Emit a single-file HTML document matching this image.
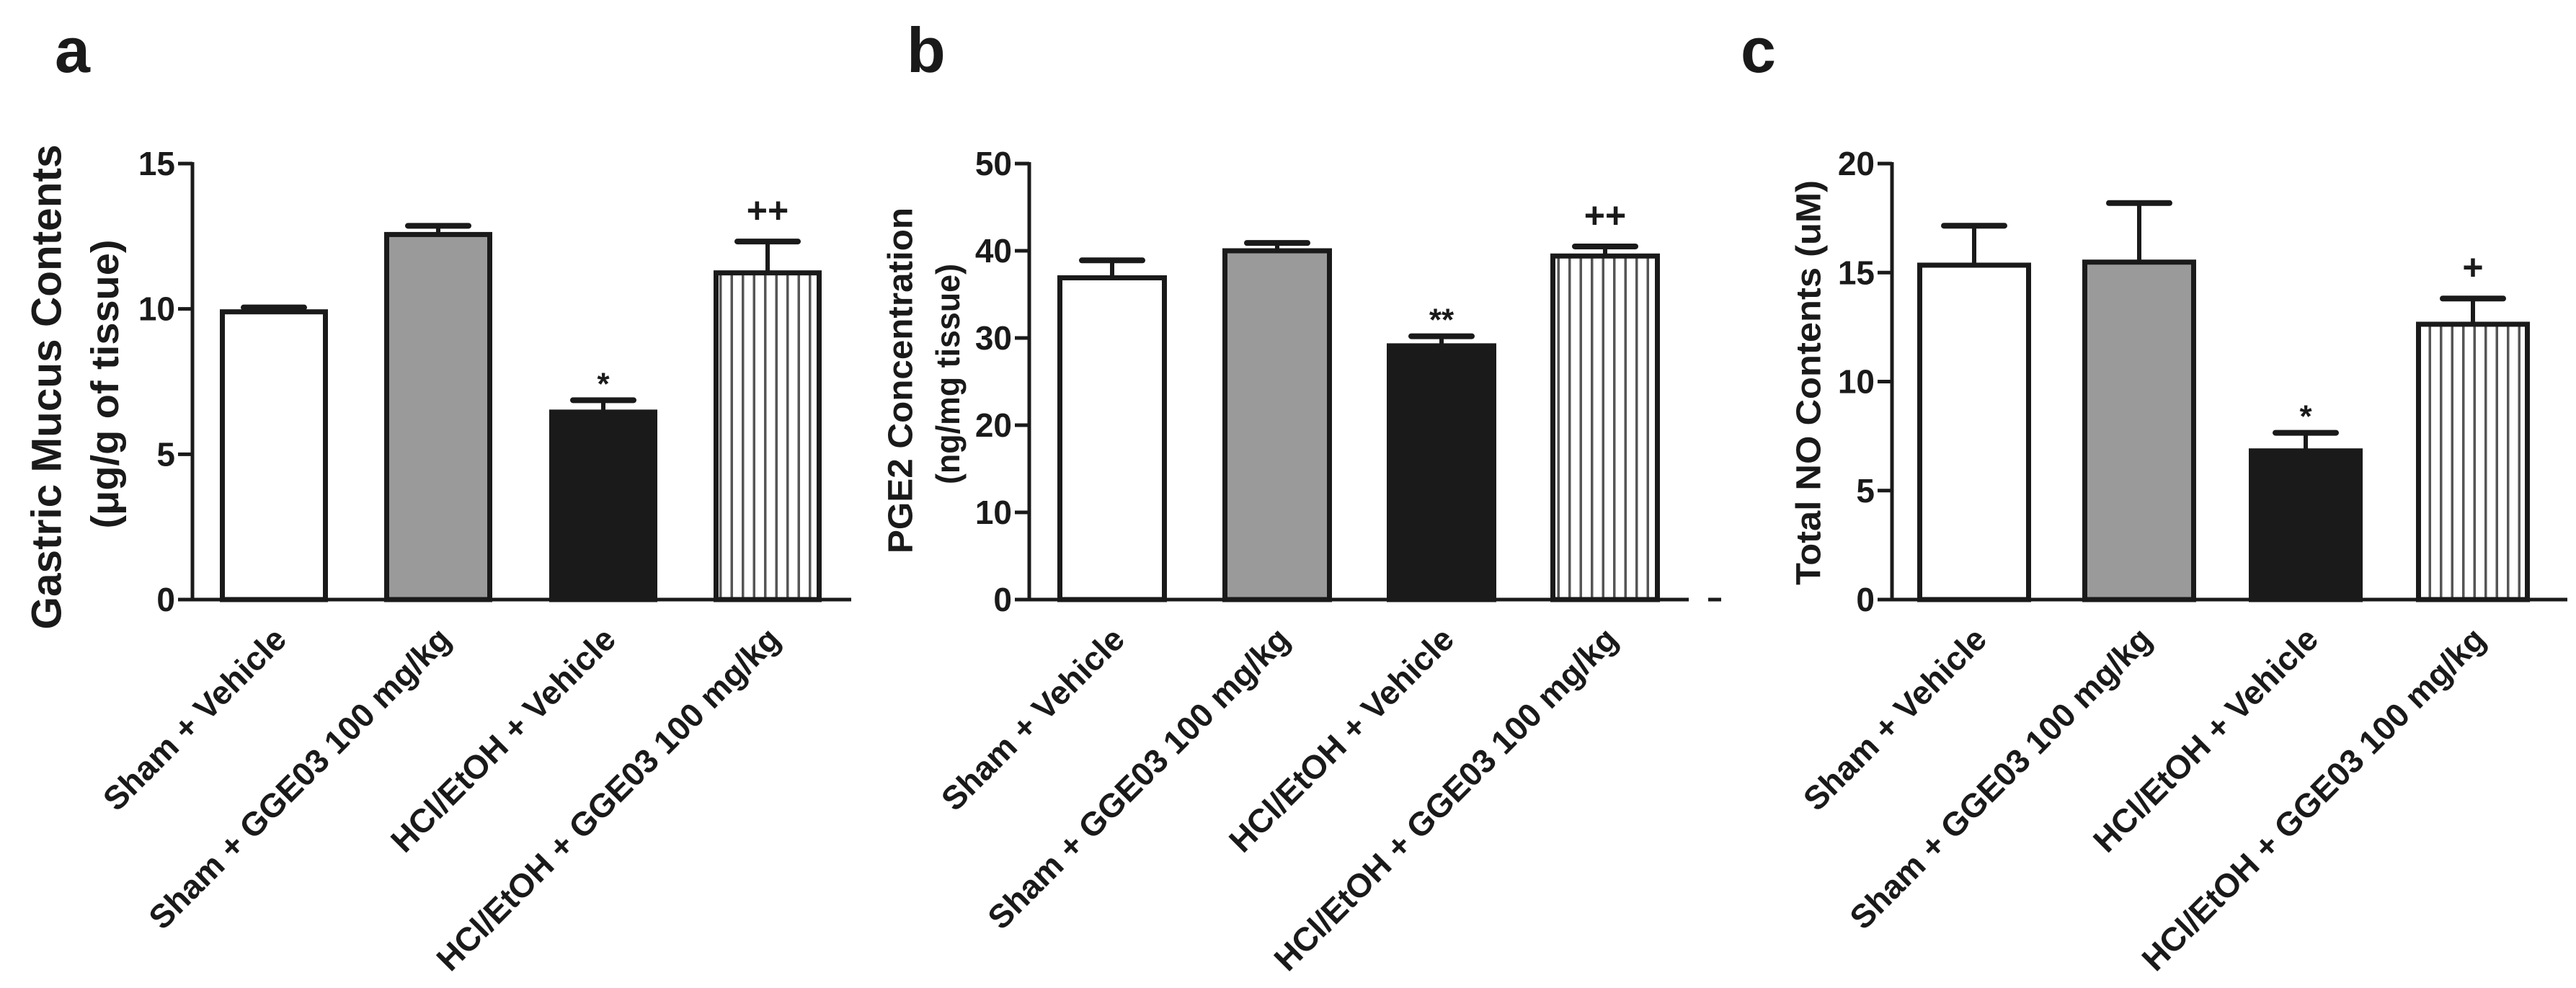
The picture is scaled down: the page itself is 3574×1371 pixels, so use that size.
<!DOCTYPE html>
<html><head><meta charset="utf-8">
<style>
html,body{margin:0;padding:0;background:#fff;}
svg{display:block;}
text{font-family:"Liberation Sans",Arial,sans-serif;font-weight:bold;fill:#1a1a1a;}
</style></head>
<body>
<svg id="fig" width="3574" height="1371" viewBox="0 0 3574 1371" xmlns="http://www.w3.org/2000/svg">
<defs>
<pattern id="hatch" patternUnits="userSpaceOnUse" width="15.5" height="20">
<rect width="15.5" height="20" fill="#fff"/>
<rect x="6" y="0" width="3.5" height="20" fill="#555"/>
</pattern>
</defs>
<g id="root"></g>
</svg>
<script>
// shared categories
const categories = ["Sham + Vehicle", "Sham + GGE03 100 mg/kg", "HCl/EtOH + Vehicle", "HCl/EtOH + GGE03 100 mg/kg"];
// panel a
const aValues = [9.9, 12.56, 6.45, 11.24];
const aErrors = [10.05, 12.86, 6.86, 12.32];
const aMarks = ["", "", "*", "++"];
const aTicks = [0, 5, 10, 15];
// panel b
const bValues = [36.9, 40.0, 29.1, 39.4];
const bErrors = [38.9, 40.9, 30.2, 40.5];
const bMarks = ["", "", "**", "++"];
const bTicks = [0, 10, 20, 30, 40, 50];
// panel c
const cValues = [15.34, 15.48, 6.82, 12.63];
const cErrors = [17.15, 18.19, 7.65, 13.81];
const cMarks = ["", "", "*", "+"];
const cTicks = [0, 5, 10, 15, 20];

const NS = "http://www.w3.org/2000/svg";
const root = document.getElementById("root");
const fills = ["#ffffff", "#9a9a9a", "#1a1a1a", "url(#hatch)"];
const Y0 = 832, Y1 = 227;

function mk(tag, attrs, parent) {
  const e = document.createElementNS(NS, tag);
  for (const k in attrs) e.setAttribute(k, attrs[k]);
  parent.appendChild(e);
  return e;
}

const panels = [
  {id:"a", values:aValues, errors:aErrors, marks:aMarks, ticks:aTicks, max:15, axisX:267, axisEnd:1181,
   barX:[305,533,762,990], barW:150, letterX:76,
   titles:[{t:"Gastric Mucus Contents", x:65, y:537, len:673, fs:58},{t:"(\u03bcg/g of tissue)", x:146, y:533, len:401, fs:54}]},
  {id:"b", values:bValues, errors:bErrors, marks:bMarks, ticks:bTicks, max:50, axisX:1428, axisEnd:2343,
   barX:[1467,1696,1924,2151], barW:152, letterX:1258,
   titles:[{t:"PGE2 Concentration", x:1250, y:528, len:480, fs:48},{t:"(ng/mg tissue)", x:1315, y:519, len:306, fs:46}]},
  {id:"c", values:cValues, errors:cErrors, marks:cMarks, ticks:cTicks, max:20, axisX:2625, axisEnd:3562,
   barX:[2660,2889,3120,3352], barW:158, letterX:2415,
   titles:[{t:"Total NO Contents (uM)", x:2510, y:531, len:562, fs:48}]}
];

panels.forEach(p => {
  const g = mk("g", {}, root);
  
  
  const yS = v => Y0 - (v / p.max) * (Y0 - Y1);

  const letter = mk("text", {x:p.letterX, y:100, "font-size":88}, g);
  letter.textContent = p.id;
  
  

  p.titles.forEach((t, i) => {
    const tt = mk("text", {x:0, y:0, "font-size":t.fs, "text-anchor":"middle", "dominant-baseline":"central",
      textLength:t.len, lengthAdjust:"spacingAndGlyphs",
      transform:`translate(${t.x},${t.y}) rotate(-90)`}, g);
    tt.textContent = t.t;
    
    
  });

  p.values.forEach((v, i) => {
    const x = p.barX[i], w = p.barW, cx = x + w/2;
    const top = yS(v), et = yS(p.errors[i]);
    const eb = mk("line", {x1:cx, x2:cx, y1:top, y2:et, stroke:"#1a1a1a", "stroke-width":6}, g);
    
    
    const cap = mk("line", {x1:cx-42, x2:cx+42, y1:et, y2:et, stroke:"#1a1a1a", "stroke-width":8, "stroke-linecap":"round"}, g);
    
    
    const r = mk("rect", {x:x+3.5, y:top, width:w-7, height:Y0-top, fill:fills[i], stroke:"#1a1a1a", "stroke-width":7}, g);
    
    
    if (p.marks[i]) {
      const isStar = p.marks[i].indexOf("*") >= 0;
      const m = mk("text", {x:cx, y: isStar ? et - 8 : et - 26, "font-size": isStar ? 44 : 50, "text-anchor":"middle", "font-weight":"normal"}, g);
      m.textContent = p.marks[i];
      
      
    }
    const lbl = mk("text", {x:0, y:0, "font-size":46, "text-anchor":"end",
      transform:`translate(${cx+20},${Y0+58}) rotate(-45)`}, g);
    lbl.textContent = categories[i];
    
    
  });

  const ya = mk("line", {x1:p.axisX, x2:p.axisX, y1:Y1-2, y2:Y0+2, stroke:"#1a1a1a", "stroke-width":5}, g);
  
  
  const xa = mk("line", {x1:p.axisX-20, x2:p.axisEnd, y1:Y0, y2:Y0, stroke:"#1a1a1a", "stroke-width":5}, g);
  
  
  p.ticks.forEach(t => {
    const y = yS(t);
    const tk = mk("line", {x1:p.axisX-20, x2:p.axisX, y1:y, y2:y, stroke:"#1a1a1a", "stroke-width":5}, g);
    
    
    const tl = mk("text", {x:p.axisX-24, y:y+16, "font-size":46, "text-anchor":"end"}, g);
    tl.textContent = t;
    
    
  });
  if (p.id === "b") {
    const d = mk("line", {x1:2370, x2:2388, y1:Y0, y2:Y0, stroke:"#1a1a1a", "stroke-width":5}, g);
    
    
  }
});
</script>
</body></html>
